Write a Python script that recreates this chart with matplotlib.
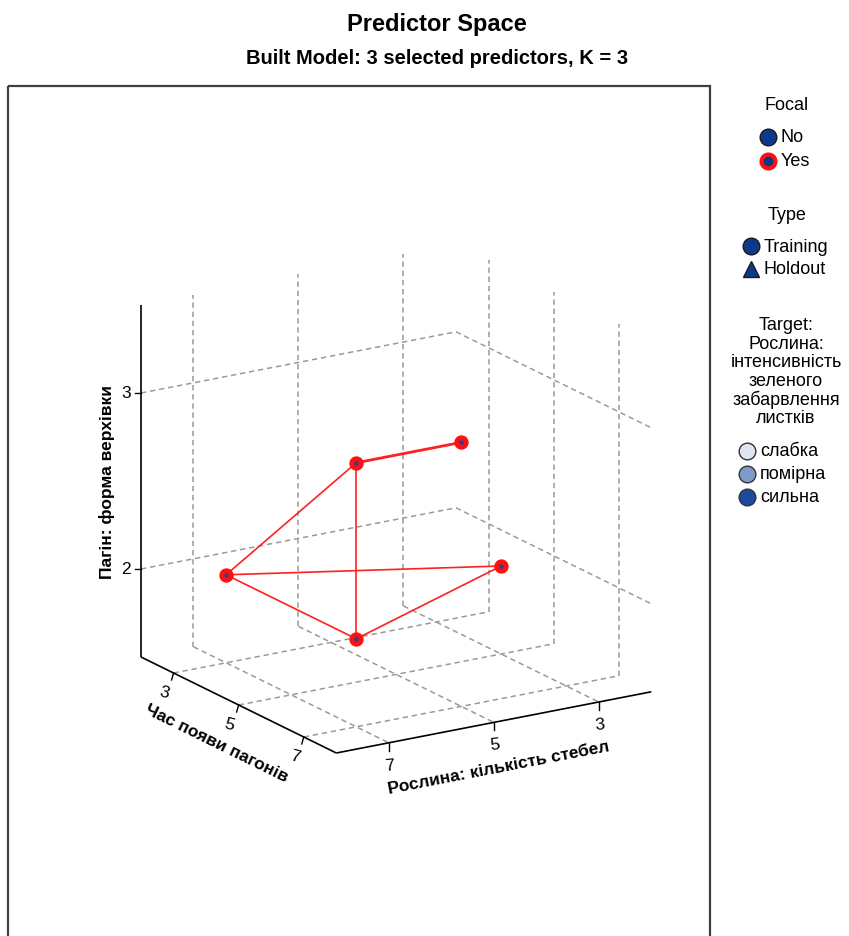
import matplotlib
matplotlib.use("Agg")
import numpy as np
import matplotlib.pyplot as plt
from matplotlib.patches import Rectangle

plt.rcParams["font.family"] = ["Liberation Sans", "DejaVu Sans"]

# data: five focal training records (K = 3 neighbours)
stems = np.array([7, 7, 5, 3, 7])          # Рослина: кількість стебел
shoot_time = np.array([3, 7, 7, 5, 7])     # Час появи пагонів
tip_shape = np.array([2, 3, 3, 2, 2])      # Пагін: форма верхівки
links = [(0, 1), (0, 3), (0, 4), (1, 2), (1, 4), (3, 4)]
double_links = [(1, 2)]

x_ticks = [7, 5, 3]
d_ticks = [3, 5, 7]
z_ticks = [2, 3]

x_label = "Рослина: кількість стебел"
d_label = "Час появи пагонів"
z_label = "Пагін: форма верхівки"
target_title = ["Target:", "Рослина:", "інтенсивність", "зеленого",
                "забарвлення", "листків"]
target_levels = ["слабка", "помірна", "сильна"]
target_colors = ["#dfe6f2", "#7f9bcc", "#1d4a9e"]

# box ranges and an orthographic view of the cube (pixel units)
X_LO, X_HI = 2.0, 8.0
D_LO, D_HI = 2.0, 8.0
Z_LO, Z_HI = 1.5, 3.5
ORIGIN = np.array([141.0, 658.0])
EX = np.array([52.5, -10.2])   # per unit decrease of x
ED = np.array([32.55, 16.0])   # per unit increase of depth
EZ = 176.0                     # per unit increase of z


def proj(x, d, z):
    x, d, z = (np.asarray(v, dtype=float) for v in (x, d, z))
    sx = ORIGIN[0] + (X_HI - x) * EX[0] + (d - D_LO) * ED[0]
    sy = ORIGIN[1] + (X_HI - x) * EX[1] + (d - D_LO) * ED[1] - (z - Z_LO) * EZ
    return sx, sy


fig = plt.figure(figsize=(8.49, 9.37), dpi=100)
ax = fig.add_axes([0, 0, 1, 1])
ax.set_xlim(0, 849)
ax.set_ylim(937, 0)
ax.axis("off")

fig.text(437 / 849, 1 - 25 / 937, "Predictor Space", ha="center", va="center",
         fontsize=17, fontweight="bold")
fig.text(437 / 849, 1 - 58 / 937, "Built Model: 3 selected predictors, K = 3",
         ha="center", va="center", fontsize=14.5, fontweight="bold")

ax.add_patch(Rectangle((8, 87), 702, 900, fill=False, lw=1.6, ec="#404040"))

grid = dict(color="#9a9a9a", lw=1.1, dashes=(3.5, 2.5), zorder=1)

# floor grid
for d in d_ticks:
    ax.plot(*proj([X_HI, X_LO], [d, d], [Z_LO, Z_LO]), **grid)
for x in x_ticks:
    ax.plot(*proj([x, x], [D_LO, D_HI], [Z_LO, Z_LO]), **grid)
# back wall and right wall verticals
for x in x_ticks:
    ax.plot(*proj([x, x], [D_LO, D_LO], [Z_LO, Z_HI]), **grid)
for d in d_ticks:
    ax.plot(*proj([X_LO, X_LO], [d, d], [Z_LO, Z_HI]), **grid)
# wall horizontals
for z in z_ticks:
    ax.plot(*proj([X_HI, X_LO, X_LO], [D_LO, D_LO, D_HI], [z, z, z]), **grid)

# axis lines
axis_kw = dict(color="black", lw=1.2, zorder=2, solid_capstyle="butt")
ax.plot(*proj([X_HI, X_HI], [D_LO, D_LO], [Z_LO, Z_HI]), **axis_kw)
ax.plot(*proj([X_HI, X_HI], [D_LO, D_HI], [Z_LO, Z_LO]), **axis_kw)
ax.plot(*proj([X_HI, X_LO], [D_HI, D_HI], [Z_LO, Z_LO]), **axis_kw)

# z ticks
for z in z_ticks:
    sx, sy = proj(X_HI, D_LO, z)
    ax.plot([sx - 6, sx], [sy, sy], color="black", lw=1.0, zorder=2)
    ax.text(sx - 10, sy, str(z), ha="right", va="center", fontsize=12.5)
# depth ticks
for d in d_ticks:
    sx, sy = proj(X_HI, d, Z_LO)
    ax.plot([sx, sx - 2], [sy, sy + 7], color="black", lw=1.0, zorder=2)
    ax.text(sx - 9, sy + 19, str(d), ha="center", va="center", fontsize=12.5,
            rotation=-15)
# x ticks
for x in x_ticks:
    sx, sy = proj(x, D_HI, Z_LO)
    ax.plot([sx, sx], [sy, sy + 8], color="black", lw=1.0, zorder=2)
    ax.text(sx + 1, sy + 22, str(x), ha="center", va="center", fontsize=12.5,
            rotation=5)

# axis titles
ang_d = -np.degrees(np.arctan2(ED[1], ED[0]))
ang_x = -np.degrees(np.arctan2(EX[1], EX[0]))
sx, sy = proj(X_HI, (D_LO + D_HI) / 2, Z_LO)
ax.text(sx - 22, sy + 38, d_label, ha="center", va="center", fontsize=12.5,
        fontweight="bold", rotation=ang_d, rotation_mode="anchor")
sx, sy = proj((X_LO + X_HI) / 2, D_HI, Z_LO)
ax.text(sx + 5, sy + 45, x_label, ha="center", va="center", fontsize=12.5,
        fontweight="bold", rotation=ang_x, rotation_mode="anchor")
sx, sy = proj(X_HI, D_LO, (Z_LO + Z_HI) / 2)
ax.text(sx - 34, sy, z_label, ha="center", va="center", fontsize=12.5,
        fontweight="bold", rotation=90)

# neighbour links and focal points
px, py = proj(stems, shoot_time, tip_shape)
for i, j in links:
    lw = 2.0 if (i, j) in double_links else 1.2
    ax.plot([px[i], px[j]], [py[i], py[j]], color="#ff2020", lw=lw, zorder=3)
ax.plot(px, py, "o", ms=6.8, mfc="#2b3f94", mec="#ff1010", mew=3.5,
        ls="none", zorder=4)

# legend
navy = "#0b3a8c"
ax.text(787, 105, "Focal", ha="center", va="center", fontsize=13)
ax.plot(768, 138, "o", ms=12, mfc=navy, mec="#1a1a1a", mew=1.0)
ax.text(781, 138, "No", ha="left", va="center", fontsize=13)
ax.plot(768, 162, "o", ms=10, mfc=navy, mec="#ff1010", mew=3.0)
ax.text(781, 162, "Yes", ha="left", va="center", fontsize=13)

ax.text(787, 216, "Type", ha="center", va="center", fontsize=13)
ax.plot(751, 247, "o", ms=12, mfc=navy, mec="#1a1a1a", mew=1.0)
ax.text(764, 247, "Training", ha="left", va="center", fontsize=13)
ax.plot(751, 270, "^", ms=11, mfc=navy, mec="#1a1a1a", mew=1.0)
ax.text(764, 270, "Holdout", ha="left", va="center", fontsize=13)

for k, line in enumerate(target_title):
    ax.text(786, 326 + 18.5 * k, line, ha="center", va="center", fontsize=13)
for k, (lev, col) in enumerate(zip(target_levels, target_colors)):
    y = 452 + 23 * k
    ax.plot(747, y, "o", ms=12, mfc=col, mec="#333333", mew=1.0)
    ax.text(760, y, lev, ha="left", va="center", fontsize=13)

fig.savefig("out.png", dpi=100)
